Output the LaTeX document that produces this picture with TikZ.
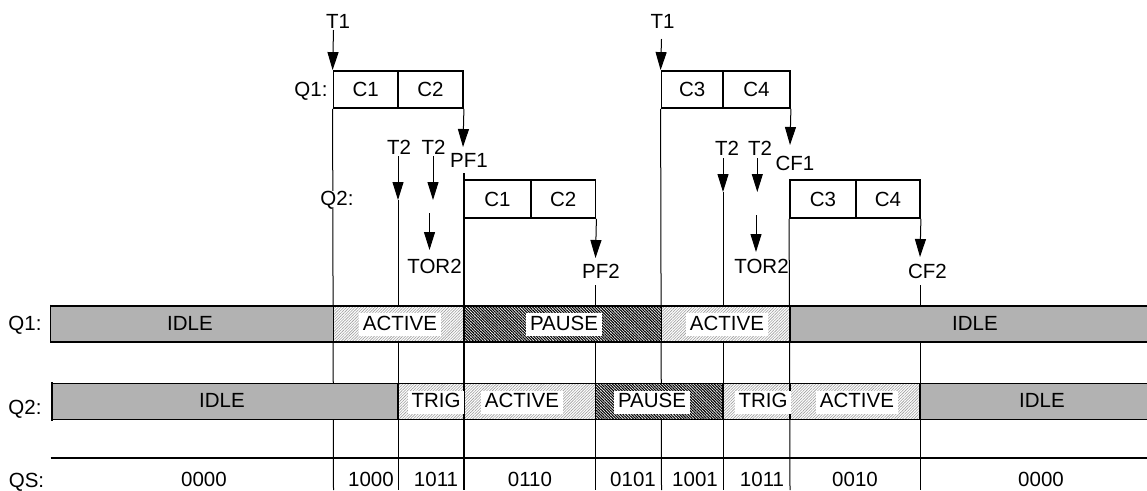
\documentclass[tikz,border=0pt]{standalone}
\usepackage{fontspec}
\setmainfont{Liberation Sans}
\usetikzlibrary{arrows.meta,patterns.meta}
\begin{document}
\begin{tikzpicture}[x=1pt,y=-1pt,
  every node/.style={font=\fontsize{20.5}{24}\selectfont, inner sep=1pt},
  txt/.style={anchor=base},
  cell/.style={draw, line width=1.8pt, minimum height=37pt, inner sep=0pt, anchor=center},
  arr/.style={-{Triangle[length=18pt,width=11pt]}, line width=1pt},
  vline/.style={line width=1pt},
  pfline/.style={line width=2pt},
  idle/.style={fill=black!30},
  light/.style={preaction={fill=white}, pattern={Lines[angle=45,distance=2pt,line width=0.6pt]}, pattern color=black!38},
  dark/.style={preaction={fill=white}, pattern={Lines[angle=-45,distance=2pt,line width=1.1pt]}, pattern color=black},
  barlbl/.style={anchor=base, fill=white, inner xsep=4pt, inner ysep=1pt, text height=16pt, text depth=5pt},
  border/.style={line width=1.8pt},
  segb/.style={line width=1.8pt},
]
\useasboundingbox (0,0) rectangle (1147,490);

% ---------- top boxes ----------
\node[cell, minimum width=64.5pt] (q1c1) at (365.75,89.5) {C1};
\node[cell, minimum width=65pt]   (q1c2) at (430.5,89.5) {C2};
\node[cell, minimum width=67pt, minimum height=38pt]   (q2c1) at (497.5,199) {C1};
\node[cell, minimum width=64.5pt, minimum height=38pt] (q2c2) at (563.25,199) {C2};
\node[cell, minimum width=61.5pt] (q1c3) at (692.25,89.5) {C3};
\node[cell, minimum width=67pt]   (q1c4) at (756.5,89.5) {C4};
\node[cell, minimum width=66pt, minimum height=38pt] (q2c3) at (823,199) {C3};
\node[cell, minimum width=64pt, minimum height=38pt] (q2c4) at (888,199) {C4};

% ---------- coordinates ----------
\coordinate (e1) at (333.5,490);
\coordinate (e2) at (398,490);
\coordinate (e3) at (464,490);
\coordinate (e4) at (595.5,490);
\coordinate (e5) at (661.5,490);
\coordinate (e6) at (723,490);
\coordinate (e7) at (790,490);
\coordinate (e8) at (920,490);
\coordinate (t1as) at (333.5,30);
\coordinate (t1bs) at (661.5,39);
\coordinate (t2as) at (398,156);
\coordinate (t2at) at (398,200);
\coordinate (t2bs) at (433,156);
\coordinate (t2bt) at (433,200);
\coordinate (t2cs) at (723,158);
\coordinate (t2ct) at (723,192);
\coordinate (t2ds) at (757.3,158);
\coordinate (t2dt) at (757.3,192);
\coordinate (tr2as) at (429.5,213);
\coordinate (tr2at) at (429.5,250);
\coordinate (tr2bs) at (756,215);
\coordinate (tr2bt) at (756,252);
\coordinate (pf1t) at (463,147);
\coordinate (pf1d) at (464,173);
\coordinate (cf1t) at (790,145);
\coordinate (pf2t) at (595.5,258);
\coordinate (pf2d) at (595.5,285);
\coordinate (cf2t) at (920,257);
\coordinate (cf2d) at (920,285);

% ---------- vertical lines ----------
\draw[vline] (q1c1.south west) -- (e1);
\draw[vline] (t2at) -- (e2);
\draw[pfline] (pf1d) -- (e3);
\draw[vline] (pf2d) -- (e4);
\draw[vline] (q1c3.south west) -- (e5);
\draw[vline] (t2ct) -- (e6);
\draw[vline] (q2c3.south west) -- (e7);
\draw[vline] (cf2d) -- (e8);

% ---------- top labels ----------
\node[txt] (t1a) at (338,28) {T1};
\node[txt] (t1b) at (662.5,28) {T1};
\node[txt] (q1lbl) at (311,96) {Q1:};
\node[txt, fill=white, inner sep=0pt] (q2lbl) at (337,205) {Q2:};
\node[txt] (t2a) at (399,154) {T2};
\node[txt] (t2b) at (433.5,154) {T2};
\node[txt] (t2c) at (727,155) {T2};
\node[txt] (t2d) at (760,155) {T2};
\node[txt] (pf1) at (469,167) {PF1};
\node[txt] (cf1) at (795,170) {CF1};
\node[txt] (tor2a) at (434.5,273) {TOR2};
\node[txt] (tor2b) at (761.5,273) {TOR2};
\node[txt] (pf2) at (601,278) {PF2};
\node[txt] (cf2) at (927.5,278) {CF2};

% ---------- arrows ----------
\draw[arr] (t1as) -- (q1c1.north west);
\draw[arr] (t1bs) -- (q1c3.north west);
\draw[arr] (t2as) -- (t2at);
\draw[arr] (t2bs) -- (t2bt);
\draw[arr] (t2cs) -- (t2ct);
\draw[arr] (t2ds) -- (t2dt);
\draw[arr] (tr2as) -- (tr2at);
\draw[arr] (tr2bs) -- (tr2bt);
\draw[arr] (q1c2.south east) -- (pf1t);
\draw[arr] (q1c4.south east) -- (cf1t);
\draw[arr] (q2c2.south east) -- (pf2t);
\draw[arr] (q2c4.south east) -- (cf2t);

% ---------- Q1 bar ----------
\path[idle]  (50.5,306) rectangle (333.5,342);
\path[light] (333.5,306) rectangle (464,342);
\path[dark]  (464,306) rectangle (661.5,342);
\path[light] (661.5,306) rectangle (790,342);
\path[idle]  (790,306) rectangle (1147,342);
\draw[border] (50.5,306) -- (1147,306);
\draw[border] (50.5,342) -- (1147,342);
\draw[border] (50.5,304.5) -- (50.5,343);
\draw[vline] (333.5,306) -- (333.5,342);
\draw[segb] (464,306) -- (464,342);
\draw[segb] (661.5,306) -- (661.5,342);
\draw[segb] (790,306) -- (790,342);

% ---------- Q2 bar ----------
\path[idle]  (52,383.5) rectangle (398,419.5);
\path[light] (398,383.5) rectangle (464,419.5);
\path[light] (464,383.5) rectangle (595.5,419.5);
\path[dark]  (595.5,383.5) rectangle (723,419.5);
\path[light] (723,383.5) rectangle (790,419.5);
\path[light] (790,383.5) rectangle (920,419.5);
\path[idle]  (920,383.5) rectangle (1147,419.5);
\draw[border] (52,383.5) -- (1147,383.5);
\draw[border] (52,419.5) -- (1147,419.5);
\draw[border] (52,382) -- (52,420.5);
\foreach \xx in {398,464,595.5,723,790,920}
  \draw[segb] (\xx,383.5) -- (\xx,419.5);

% ---------- QS line ----------
\draw[border] (50.5,458) -- (1147,458);

% ---------- bar labels ----------
\node[txt] (lq1) at (25,330) {Q1:};
\node[txt] (lq2) at (25,414) {Q2:};
\node[txt] (lqs) at (26.5,487) {QS:};

\node[txt] (s1a) at (190,330) {IDLE};
\node[barlbl] (s1b) at (400,330) {ACTIVE};
\node[barlbl] (s1c) at (564,330) {PAUSE};
\node[barlbl] (s1d) at (727,330) {ACTIVE};
\node[txt] (s1e) at (975,330) {IDLE};

\node[txt] (s2a) at (222,407.5) {IDLE};
\node[barlbl] (s2b) at (436,407.5) {TRIG};
\node[barlbl] (s2c) at (522,407.5) {ACTIVE};
\node[barlbl] (s2d) at (652,407.5) {PAUSE};
\node[barlbl] (s2e) at (763,407.5) {TRIG};
\node[barlbl] (s2f) at (857,407.5) {ACTIVE};
\node[txt] (s2g) at (1042,407.5) {IDLE};

\node[txt] (qs1) at (204,486) {0000};
\node[txt] (qs2) at (371,486) {1000};
\node[txt] (qs3) at (436,486) {1011};
\node[txt] (qs4) at (530,486) {0110};
\node[txt] (qs5) at (633,486) {0101};
\node[txt] (qs6) at (695,486) {1001};
\node[txt] (qs7) at (762,486) {1011};
\node[txt] (qs8) at (855,486) {0010};
\node[txt] (qs9) at (1041,486) {0000};
\end{tikzpicture}
\end{document}
